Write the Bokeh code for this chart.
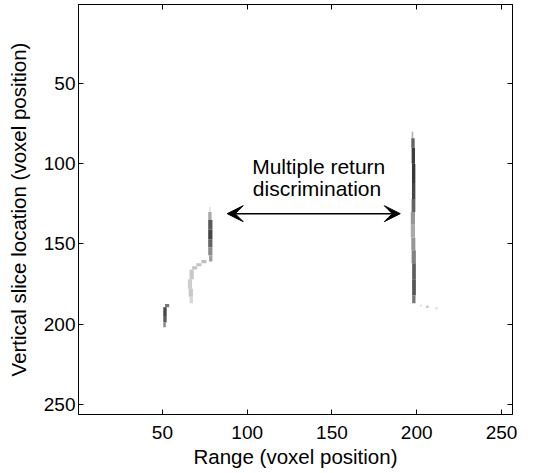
from bokeh.plotting import figure
from bokeh.models import Range1d, FixedTicker, LinearAxis, Arrow, VeeHead
from bokeh.core.properties import value
from bokeh.embed import file_html
from bokeh.resources import INLINE

# ---- data (image cells as blocks: column span, row span, gray level 0-255) ----
left_x0 = [77.5, 77, 77, 77, 77, 77, 77.5, 73, 70, 67.5, 66, 65, 65.5, 66, 51.5, 50.5, 50.5, 50.5]
left_x1 = [78.5, 79, 79.5, 79.5, 79.5, 79.5, 79.5, 76, 73, 70.5, 68.5, 67.5, 68, 68, 54, 52.5, 52.5, 52]
left_y0 = [127, 130, 135, 141, 147, 152, 157, 160, 162, 164, 166, 172, 178, 183, 187.5, 189.5, 195, 199]
left_y1 = [130, 135, 141, 147, 152, 157, 161, 162, 164, 166, 172, 178, 183, 187, 189.5, 195, 199, 202]
left_gray = [225, 170, 90, 70, 100, 140, 160, 190, 195, 195, 200, 205, 200, 215, 120, 70, 90, 140]

right_x0 = [197, 196.8, 197, 197.2, 197.2, 197, 196.5, 196.5, 196.8, 197, 197.3, 197.3, 197.3, 202, 205.5, 211]
right_x1 = [198, 198.8, 199, 199.2, 199.2, 199.2, 199, 199, 199.2, 199.5, 199.5, 199.5, 199.3, 203, 207, 212.5]
right_y0 = [80, 84, 90, 100, 112, 122, 130, 138, 146, 154, 162, 172, 182, 188, 188.5, 189.5]
right_y1 = [84, 90, 100, 112, 122, 130, 138, 146, 154, 162, 172, 182, 187, 189, 190, 191]
right_gray = [180, 100, 60, 55, 70, 100, 150, 170, 150, 130, 95, 85, 120, 215, 200, 225]

tick_values = [50, 100, 150, 200, 250]
x_limits = (0.5, 256.5)
y_limits = (256.5, 0.5)

annot_lines = ["Multiple return", "discrimination"]
annot_x = [142.2, 141.2]
annot_y = [101.5, 115.4]
arrow_x = (88.2, 190.3)
arrow_y = 131.1

FONT = "Liberation Sans"

p = figure(width=534, height=473, output_backend="svg", toolbar_location=None,
           x_range=Range1d(*x_limits), y_range=Range1d(*y_limits),
           min_border_left=78, min_border_right=22, min_border_top=4, min_border_bottom=59)
p.background_fill_color = "white"
p.border_fill_color = "white"
p.outline_line_color = "black"
p.outline_line_width = 1
p.xgrid.visible = False
p.ygrid.visible = False

def grays(vals):
    return ["#%02x%02x%02x" % (g, g, g) for g in vals]

p.quad(left=left_x0, right=left_x1, top=left_y0, bottom=left_y1,
       fill_color=grays(left_gray), line_color=None)
p.quad(left=right_x0, right=right_x1, top=right_y0, bottom=right_y1,
       fill_color=grays(right_gray), line_color=None)

p.text(x=annot_x, y=annot_y, text=annot_lines, text_font=value(FONT),
       text_font_size="21px", text_align="center", text_baseline="alphabetic",
       text_color="black")

p.add_layout(Arrow(start=VeeHead(size=16, fill_color="black", line_color="black"),
                   end=VeeHead(size=16, fill_color="black", line_color="black"),
                   x_start=arrow_x[0], y_start=arrow_y, x_end=arrow_x[1], y_end=arrow_y,
                   line_width=1.5, line_color="black"))

def style_axis(ax, labels=True):
    ax.ticker = FixedTicker(ticks=tick_values)
    ax.major_tick_in = 5
    ax.major_tick_out = 0
    ax.minor_tick_line_color = None
    ax.axis_line_color = "black"
    ax.major_tick_line_color = "black"
    ax.major_label_text_font = FONT
    ax.axis_label_text_font = FONT
    ax.axis_label_text_font_style = "normal"
    ax.axis_label_text_color = "black"
    if labels:
        ax.major_label_text_color = "black"
        ax.major_label_text_font_size = "19px"
        ax.axis_label_text_font_size = "20.5px"
    else:
        ax.major_label_text_color = None
        ax.major_label_text_font_size = "1px"
        ax.major_label_standoff = 0
        ax.axis_label_standoff = 0

style_axis(p.xaxis[0])
p.xaxis[0].axis_label = "Range (voxel position)"
p.xaxis[0].major_label_standoff = 11
p.xaxis[0].axis_label_standoff = 3

style_axis(p.yaxis[0])
p.yaxis[0].axis_label = "Vertical slice location (voxel position)"
p.yaxis[0].major_label_standoff = 3
p.yaxis[0].axis_label_standoff = 11

top_ax = LinearAxis()
style_axis(top_ax, labels=False)
p.add_layout(top_ax, "above")
right_ax = LinearAxis()
style_axis(right_ax, labels=False)
p.add_layout(right_ax, "right")

open("out.html", "w").write(file_html(p, INLINE))
